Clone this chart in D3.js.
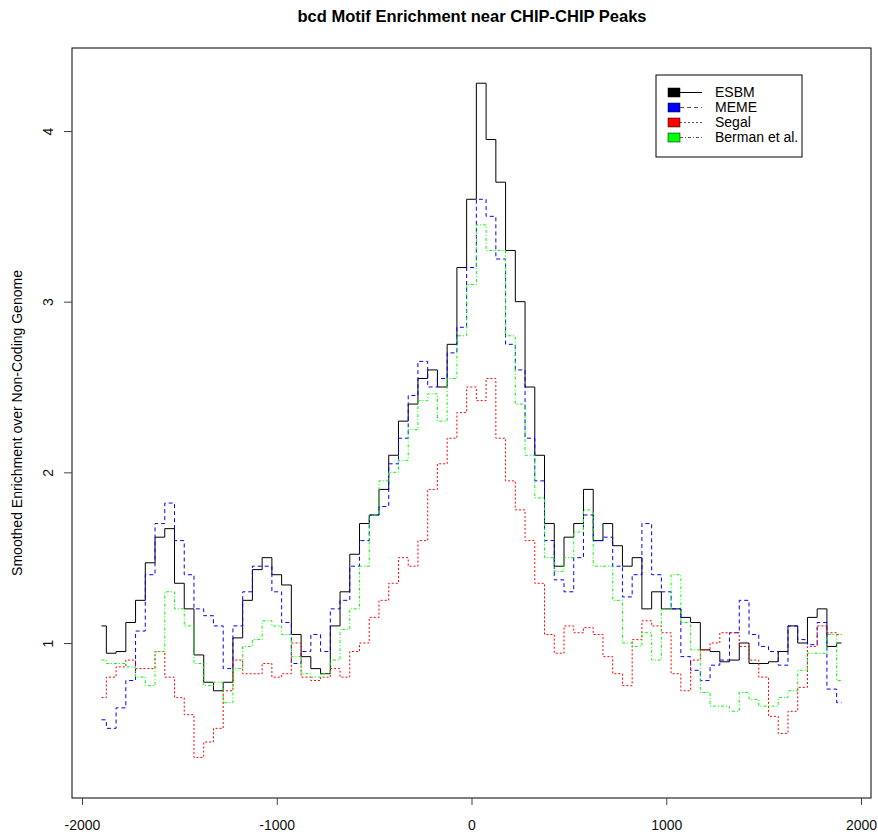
<!DOCTYPE html>
<html>
<head>
<meta charset="utf-8">
<script src="https://cdn.jsdelivr.net/npm/d3@7"></script>
<style>
  body { margin: 0; background: #fff; }
  svg text { font-family: "Liberation Sans", Arial, sans-serif; }
</style>
</head>
<body>
<div id="canvas"></div>
<script>
// positions relative to peak (bp), one value every 50 bp
var positions = d3.range(-1900, 1901, 50);

var esbm = [1.1, 0.94, 0.95, 1.12, 1.25, 1.47, 1.62, 1.67, 1.35, 1.2,
  0.93, 0.77, 0.72, 0.77, 1.03, 1.25, 1.43, 1.5, 1.4, 1.34,
  1.05, 0.92, 0.85, 0.82, 1.1, 1.3, 1.52, 1.7, 1.75, 1.9,
  2.1, 2.3, 2.4, 2.55, 2.6, 2.5, 2.75, 3.2, 3.6, 4.28,
  3.95, 3.7, 3.3, 3.0, 2.5, 2.1, 1.7, 1.45, 1.62, 1.7,
  1.9, 1.6, 1.7, 1.57, 1.45, 1.5, 1.2, 1.3, 1.2, 1.2,
  1.15, 1.12, 0.96, 0.95, 0.89, 0.9, 1.0, 0.88, 0.88, 0.89,
  0.95, 1.1, 1.0, 1.15, 1.2, 0.98, 1.0];

var meme = [0.55, 0.5, 0.62, 0.78, 1.07, 1.4, 1.7, 1.82, 1.6, 1.4,
  1.2, 1.16, 1.1, 0.85, 1.1, 1.3, 1.45, 1.45, 1.3, 1.12,
  0.88, 0.95, 1.05, 0.95, 1.2, 1.25, 1.45, 1.6, 1.75, 1.8,
  2.05, 2.2, 2.45, 2.65, 2.5, 2.55, 2.7, 2.85, 3.2, 3.6,
  3.5, 3.25, 2.75, 2.6, 2.2, 1.95, 1.6, 1.37, 1.3, 1.5,
  1.75, 1.6, 1.62, 1.45, 1.27, 1.4, 1.7, 1.4, 1.3, 1.2,
  0.92, 0.84, 0.78, 0.87, 0.9, 1.06, 1.25, 1.05, 0.98, 0.95,
  0.87, 1.1, 1.02, 0.99, 1.12, 0.73, 0.65];

var segal = [0.68, 0.8, 0.86, 0.9, 0.85, 0.85, 0.95, 0.8, 0.68, 0.58,
  0.33, 0.42, 0.5, 0.72, 0.9, 0.82, 0.82, 0.88, 0.8, 0.82,
  1.0, 0.8, 0.78, 0.8, 0.85, 0.8, 0.95, 1.0, 1.15, 1.25,
  1.35, 1.5, 1.45, 1.6, 1.9, 2.05, 2.2, 2.35, 2.5, 2.42,
  2.55, 2.2, 1.95, 1.78, 1.6, 1.35, 1.05, 0.94, 1.1, 1.06,
  1.09, 1.05, 0.92, 0.82, 0.75, 1.02, 1.13, 1.1, 1.06, 0.82,
  0.72, 0.9, 0.96, 1.0, 1.06, 1.06, 0.98, 0.9, 0.8, 0.57,
  0.47, 0.6, 0.74, 0.98, 1.1, 1.06, 1.05];

var berman = [0.9, 0.88, 0.88, 0.86, 0.8, 0.75, 0.95, 1.3, 1.2, 1.1,
  0.88, 0.75, 0.77, 0.65, 0.85, 0.98, 1.02, 1.13, 1.1, 1.05,
  0.92, 0.82, 0.8, 0.82, 0.9, 1.08, 1.2, 1.45, 1.75, 1.95,
  2.0, 2.07, 2.25, 2.42, 2.46, 2.3, 2.55, 2.8, 3.1, 3.45,
  3.3, 3.3, 2.8, 2.4, 2.1, 1.85, 1.5, 1.42, 1.5, 1.65,
  1.78, 1.45, 1.45, 1.25, 1.0, 0.98, 1.06, 0.9, 1.2, 1.4,
  1.12, 0.96, 0.71, 0.63, 0.63, 0.6, 0.71, 0.67, 0.63, 0.63,
  0.68, 0.72, 0.84, 0.94, 0.94, 1.05, 0.78];

var seriesNames = ['ESBM', 'MEME', 'Segal', 'Berman et al.'];
var seriesColors = ['#000000', '#0000ff', '#ff0000', '#00ff00'];
var seriesDash = [null, '4,3', '2,2', '3,2,1,2'];
var xTicks = [-2000, -1000, 0, 1000, 2000];
var yTicks = [1, 2, 3, 4];

var allSeries = [esbm, meme, segal, berman];

var width = 878, height = 835;
var box = { left: 72, right: 871, top: 48, bottom: 798 };
var fmt = function (d) { return String(d); };  // plain hyphen minus, like R

var svg = d3.select('#canvas').append('svg')
  .attr('width', width)
  .attr('height', height);

var x = d3.scaleLinear().domain([-2000, 2000]).range([82, 861]);
var y = d3.scaleLinear().domain([1, 4]).range([643, 131]);

var line = d3.line()
  .x(function (d) { return x(d[0]); })
  .y(function (d) { return y(d[1]); })
  .curve(d3.curveStep);

allSeries.forEach(function (vals, i) {
  var pts = positions.map(function (p, j) { return [p, vals[j]]; });
  svg.append('path')
    .datum(pts)
    .attr('fill', 'none')
    .attr('stroke', seriesColors[i])
    .attr('stroke-width', 1)
    .attr('stroke-dasharray', seriesDash[i])
    .attr('d', line);
});

// plot box
svg.append('rect')
  .attr('x', box.left).attr('y', box.top)
  .attr('width', box.right - box.left)
  .attr('height', box.bottom - box.top)
  .attr('fill', 'none')
  .attr('stroke', '#000')
  .attr('stroke-width', 1);

// x axis
var xAxis = svg.append('g')
  .attr('transform', 'translate(0,' + box.bottom + ')')
  .call(d3.axisBottom(x).tickValues(xTicks).tickSize(7).tickPadding(15).tickFormat(fmt));
xAxis.select('.domain').remove();
xAxis.selectAll('text').attr('font-size', 14).attr('fill', '#111');
xAxis.selectAll('line').attr('stroke', '#444');

// y axis
var yAxis = svg.append('g')
  .attr('transform', 'translate(' + box.left + ',0)')
  .call(d3.axisLeft(y).tickValues(yTicks).tickSize(8).tickFormat(fmt));
yAxis.select('.domain').remove();
yAxis.selectAll('line').attr('stroke', '#444');
yAxis.selectAll('text')
  .attr('font-size', 14)
  .attr('fill', '#111')
  .attr('text-anchor', 'middle')
  .attr('x', null)
  .attr('dy', null)
  .attr('transform', 'translate(-24,0) rotate(-90)')
  .attr('dominant-baseline', 'central');

// titles
svg.append('text')
  .attr('x', 472).attr('y', 22)
  .attr('text-anchor', 'middle')
  .attr('font-size', 16.5)
  .attr('font-weight', 'bold')
  .text('bcd Motif Enrichment near CHIP-CHIP Peaks');

svg.append('text')
  .attr('transform', 'translate(22,' + ((box.top + box.bottom) / 2) + ') rotate(-90)')
  .attr('text-anchor', 'middle')
  .attr('font-size', 14)
  .text('Smoothed Enrichment over Non-Coding Genome');

// legend
var legend = svg.append('g').attr('transform', 'translate(656,75)');
legend.append('rect')
  .attr('width', 146).attr('height', 82)
  .attr('fill', '#fff')
  .attr('stroke', '#000');

seriesNames.forEach(function (name, i) {
  var ly = 17.5 + i * 15;
  legend.append('rect')
    .attr('x', 12).attr('y', ly - 4.5)
    .attr('width', 12).attr('height', 9)
    .attr('fill', seriesColors[i])
    .attr('stroke', '#000').attr('stroke-width', 0.5);
  legend.append('line')
    .attr('x1', 24).attr('x2', 46)
    .attr('y1', ly).attr('y2', ly)
    .attr('stroke', i === 0 ? '#000' : '#555')
    .attr('stroke-dasharray', seriesDash[i]);
  legend.append('text')
    .attr('x', 59).attr('y', ly)
    .attr('dy', '0.35em')
    .attr('font-size', 14)
    .text(name);
});
</script>
</body>
</html>
